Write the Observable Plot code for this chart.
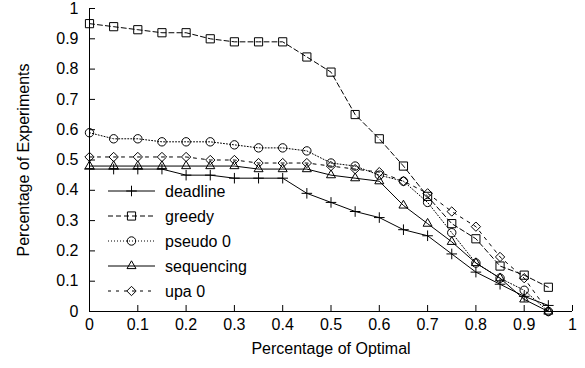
<!DOCTYPE html>
<html>
<head>
<meta charset="utf-8">
<script src="https://cdn.jsdelivr.net/npm/d3@7"></script>
<script src="https://cdn.jsdelivr.net/npm/@observablehq/plot@0.6"></script>
<style>
  body { margin: 0; background: #fff; }
  #chart { font-family: "Liberation Sans", Arial, sans-serif; }
</style>
</head>
<body>
<div id="chart"></div>
<script>
// Fraction of optimal (x) at which each heuristic is evaluated
const optimal = [0, 0.05, 0.1, 0.15, 0.2, 0.25, 0.3, 0.35, 0.4, 0.45,
                 0.5, 0.55, 0.6, 0.65, 0.7, 0.75, 0.8, 0.85, 0.9, 0.95];

// Fraction of experiments reaching that level, one array per heuristic
const deadline   = [0.47, 0.47, 0.47, 0.47, 0.45, 0.45, 0.44, 0.44, 0.44, 0.39,
                    0.36, 0.33, 0.31, 0.27, 0.25, 0.19, 0.13, 0.09, 0.05, 0.02];
const greedy     = [0.95, 0.94, 0.93, 0.92, 0.92, 0.90, 0.89, 0.89, 0.89, 0.84,
                    0.79, 0.65, 0.57, 0.48, 0.38, 0.29, 0.24, 0.15, 0.12, 0.08];
const pseudo0    = [0.59, 0.57, 0.57, 0.56, 0.56, 0.56, 0.55, 0.54, 0.54, 0.53,
                    0.49, 0.48, 0.45, 0.43, 0.36, 0.26, 0.16, 0.11, 0.07, 0.00];
const sequencing = [0.48, 0.48, 0.48, 0.48, 0.48, 0.48, 0.48, 0.47, 0.47, 0.47,
                    0.45, 0.44, 0.43, 0.35, 0.29, 0.23, 0.16, 0.11, 0.04, 0.00];
const upa0       = [0.51, 0.51, 0.51, 0.51, 0.51, 0.50, 0.50, 0.49, 0.49, 0.49,
                    0.48, 0.47, 0.46, 0.43, 0.39, 0.33, 0.28, 0.18, 0.11, 0.00];

const seriesNames = ["deadline", "greedy", "pseudo 0", "sequencing", "upa 0"];
const seriesValues = [deadline, greedy, pseudo0, sequencing, upa0];

const xTicks = [0, 0.1, 0.2, 0.3, 0.4, 0.5, 0.6, 0.7, 0.8, 0.9, 1];
const yTicks = [0, 0.1, 0.2, 0.3, 0.4, 0.5, 0.6, 0.7, 0.8, 0.9, 1];

// Line dash and point symbol for each series
const styles = {
  "deadline":   {dash: null,    symbol: "plus",      r: 3.5},
  "greedy":     {dash: "5,3",   symbol: "square2",   r: 5.2},
  "pseudo 0":   {dash: "1,2",   symbol: "circle",    r: 4.2},
  "sequencing": {dash: null,    symbol: "triangle2", r: 4.3},
  "upa 0":      {dash: "3,5",   symbol: "diamond2",  r: 4.2}
};

const rows = seriesNames.map((name, k) =>
  optimal.map((x, i) => ({name, x, y: seriesValues[k][i]})));

const W = 585, H = 368;
const margin = {top: 8, right: 13, bottom: 57, left: 89};
const fontSize = 16;

const seriesMarks = rows.flatMap((data, k) => {
  const s = styles[seriesNames[k]];
  return [
    Plot.line(data, {x: "x", y: "y", stroke: "#000", strokeWidth: 1,
                     strokeDasharray: s.dash}),
    Plot.dot(data, {x: "x", y: "y", symbol: () => s.symbol, r: s.r,
                    stroke: "#000", strokeWidth: 1, fill: "none"})
  ];
});

const fmt = d => String(d);

const plot = Plot.plot({
  width: W,
  height: H,
  marginTop: margin.top,
  marginRight: margin.right,
  marginBottom: margin.bottom,
  marginLeft: margin.left,
  style: {fontSize: fontSize + "px", fontFamily: "Liberation Sans, Arial, sans-serif", color: "#000", background: "#fff"},
  x: {domain: [0, 1]},
  y: {domain: [0, 1]},
  symbol: {type: "identity"},
  marks: [
    // inward tick marks
    Plot.axisX(xTicks, {anchor: "bottom", tickSize: -6, tickFormat: () => "", label: null}),
    Plot.axisY(yTicks, {anchor: "left", tickSize: -6, tickFormat: () => "", label: null}),
    // tick labels and titles
    Plot.axisX(xTicks, {anchor: "bottom", tickSize: 0, tickPadding: 7, tickFormat: fmt,
                        label: "Percentage of Optimal", labelAnchor: "center", labelArrow: "none", labelOffset: 42}),
    Plot.axisY(yTicks, {anchor: "left", tickSize: 0, tickPadding: 11, tickFormat: fmt,
                        label: "Percentage of Experiments", labelAnchor: "center", labelArrow: "none", labelOffset: 72}),
    Plot.ruleX([0], {stroke: "#000"}),
    Plot.ruleY([0], {stroke: "#000"}),
    ...seriesMarks
  ]
});

document.getElementById("chart").appendChild(plot);

// Key drawn inside the plotting area, top-left of the lower half
const svg = d3.select(plot);
const key = svg.append("g").attr("transform", "translate(108,191)");
seriesNames.forEach((name, i) => {
  const s = styles[name];
  const g = key.append("g").attr("transform", `translate(0,${i * 25})`);
  g.append("line").attr("x1", 0).attr("x2", 47).attr("y1", 0).attr("y2", 0)
    .attr("stroke", "#000").attr("stroke-width", 1)
    .attr("stroke-dasharray", s.dash);
  const symbolType = {
    plus: d3.symbolPlus, square2: d3.symbolSquare2, circle: d3.symbolCircle,
    triangle2: d3.symbolTriangle2, diamond2: d3.symbolDiamond2
  }[s.symbol];
  g.append("path").attr("transform", "translate(23.5,0)")
    .attr("d", d3.symbol(symbolType, Math.PI * s.r * s.r)())
    .attr("fill", "none").attr("stroke", "#000").attr("stroke-width", 1);
  g.append("text").attr("x", 57).attr("y", 0).attr("dy", "0.35em")
    .attr("text-anchor", "start")
    .attr("font-size", fontSize).attr("fill", "#000").text(name);
});
</script>
</body>
</html>
